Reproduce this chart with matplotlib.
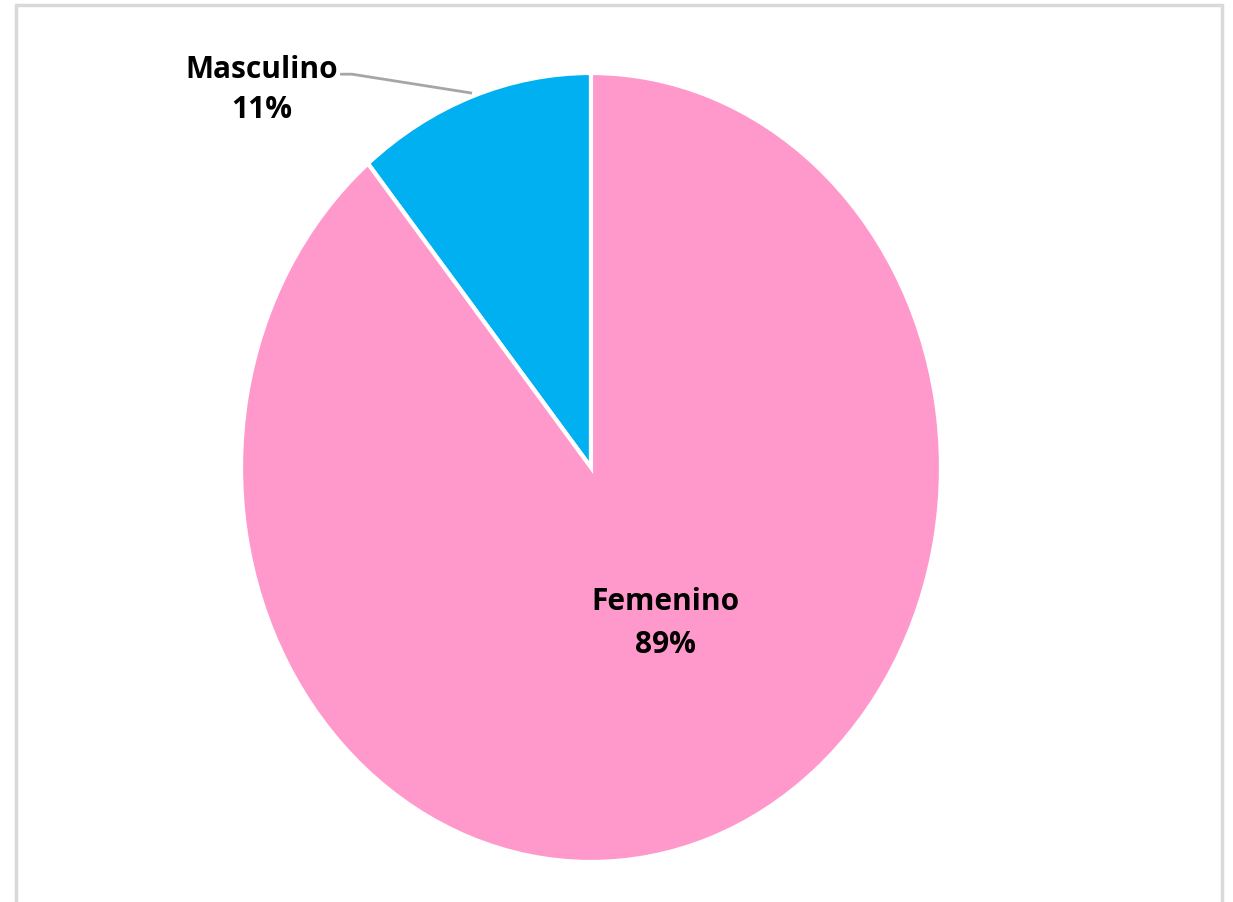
import matplotlib.pyplot as plt
from matplotlib.patches import Rectangle

# data
categories = ["Masculino", "Femenino"]
values = [11, 89]
colors = ["#00B0F0", "#FF99CC"]

W, H = 1233, 902
fig = plt.figure(figsize=(W / 100, H / 100), dpi=100)

# light grey chart frame (bottom edge runs off the image)
fig.patches.append(Rectangle((16 / W, -0.02), (1222 - 16) / W, (H - 5) / H + 0.02,
                             transform=fig.transFigure, fill=False,
                             edgecolor="#d9d9d9", linewidth=2.5))

# pie is stretched: 700 px wide, 789 px tall
ax = fig.add_axes([241 / W, (H - 862) / H, 700 / W, 789 / H])
ax.pie(values, colors=colors, startangle=90, counterclock=True,
       wedgeprops=dict(edgecolor="white", linewidth=3))
ax.set_aspect("auto")
ax.set_xlim(-1, 1)
ax.set_ylim(-1, 1)

pct = [round(v / sum(values) * 100) for v in values]
font = dict(family=["Open Sans", "DejaVu Sans"], fontweight="bold",
            fontsize=21.5, color="black", ha="center", va="baseline",
            clip_on=False)

# label positions (name line, percent line)
label_pos = {
    "Femenino": (0.214, -0.362, -0.471),
    "Masculino": (-0.941, 0.987, 0.886),
}
for name, p in zip(categories, pct):
    x, y1, y2 = label_pos[name]
    ax.text(x, y1, name, **font)
    ax.text(x, y2, f"{p}%", **font)

# leader line for the small slice
ax.plot([-0.717, -0.683, -0.34], [0.997, 0.997, 0.949], color="#a6a6a6",
        linewidth=2, clip_on=False, solid_capstyle="butt")

fig.savefig("out.png", dpi=100)
